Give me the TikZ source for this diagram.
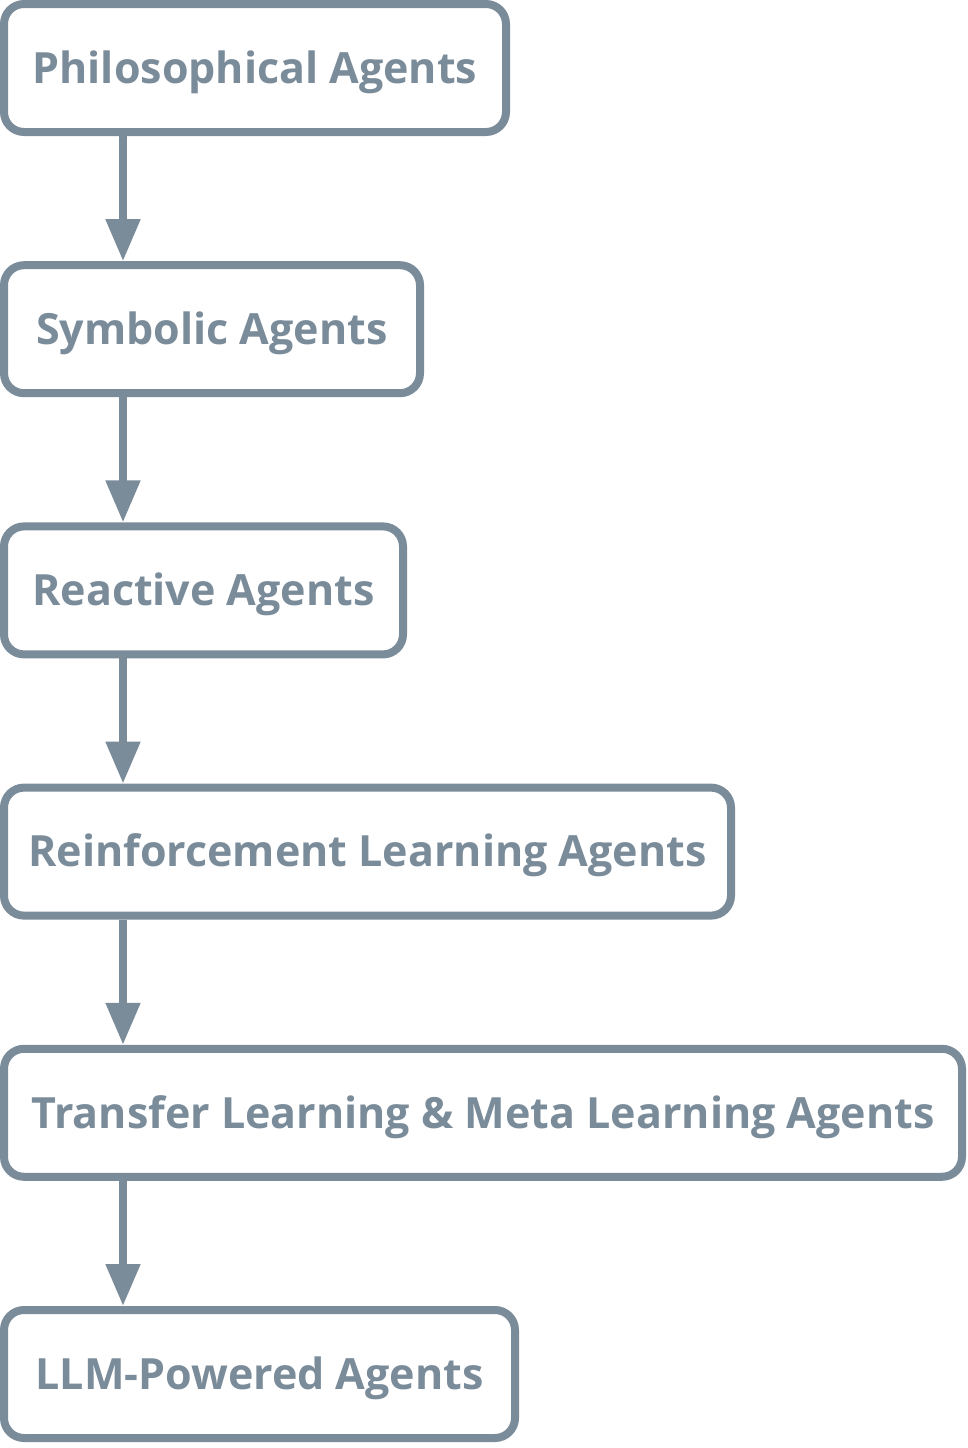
\documentclass[tikz,border=0pt]{standalone}
\usepackage{fontspec}
\setmainfont{Open Sans}
\usetikzlibrary{arrows.meta}
\definecolor{slate}{RGB}{122,139,154}
\begin{document}
\begin{tikzpicture}[x=1pt,y=-1pt,
  stagebox/.style={draw=slate, line width=8pt, rounded corners=20pt, fill=white,
    minimum height=128pt, inner sep=0pt, anchor=north west, text=slate,
    text height=30.5pt, text depth=0pt,
    font=\fontsize{43}{50}\selectfont\bfseries},
  flow/.style={draw=slate, line width=8pt, -{Triangle[width=33pt,length=42pt]}}]
\useasboundingbox (0,0) rectangle (968,1448);
\node[stagebox, minimum width=502pt] (a) at (0,0) {Philosophical Agents};
\node[stagebox, minimum width=416pt] (b) at (0,261.2) {Symbolic Agents};
\node[stagebox, minimum width=399pt] (c) at (0,522.4) {Reactive Agents};
\node[stagebox, minimum width=727pt] (d) at (0,783.6) {Reinforcement Learning Agents};
\node[stagebox, minimum width=958pt] (e) at (0,1044.8) {Transfer Learning \& Meta Learning Agents};
\node[stagebox, minimum width=511pt] (f) at (0,1306) {LLM-Powered Agents};
\draw[flow] (a.south west) ++(123,0) coordinate (a1) -- (a1 |- b.north);
\draw[flow] (b.south west) ++(123,0) coordinate (b1) -- (b1 |- c.north);
\draw[flow] (c.south west) ++(123,0) coordinate (c1) -- (c1 |- d.north);
\draw[flow] (d.south west) ++(123,0) coordinate (d1) -- (d1 |- e.north);
\draw[flow] (e.south west) ++(123,0) coordinate (e1) -- (e1 |- f.north);
\end{tikzpicture}
\end{document}
